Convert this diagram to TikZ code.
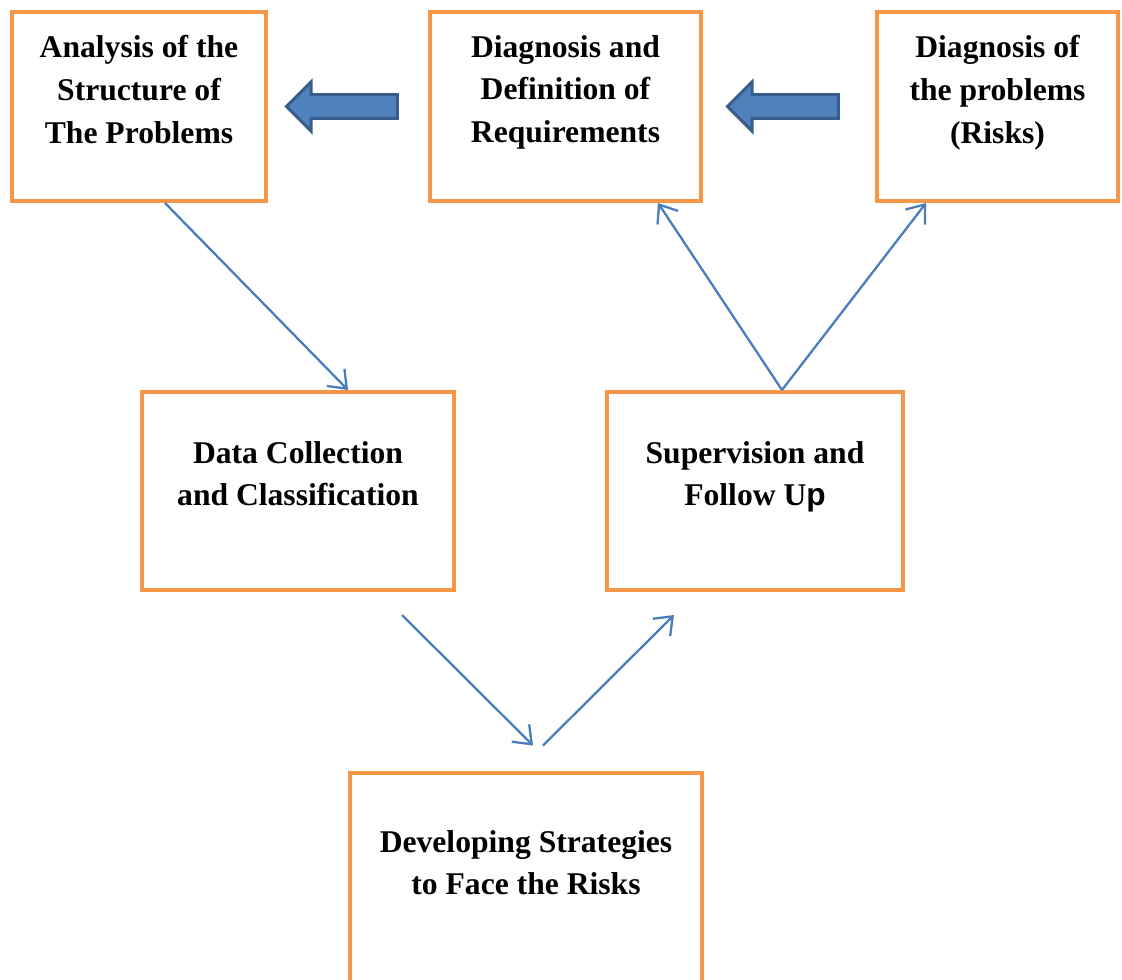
\documentclass[tikz,border=0pt]{standalone}
\usepackage{fontspec}
\setmainfont{Liberation Serif}
\setsansfont{Liberation Sans}
\usetikzlibrary{arrows.meta,shapes.arrows,calc}

\definecolor{boxorange}{HTML}{F79646}
\definecolor{lineblue}{HTML}{4A7EBB}
\definecolor{arrowfill}{HTML}{4F81BD}
\definecolor{arrowedge}{HTML}{385D8A}

\tikzset{
  stage/.style={draw=boxorange, line width=2.3pt, align=center, inner sep=0pt,
    font=\fontsize{18}{24.4}\selectfont\bfseries, text depth=0.7cm},
  flow/.style={draw=lineblue, line width=1.3pt, -{Straight Barb[length=9pt,width=14pt]}},
  bigarrow/.style={single arrow, draw=arrowedge, fill=arrowfill, line width=1.7pt,
    shape border rotate=180, inner xsep=0pt, inner ysep=0.21cm,
    minimum height=2.22cm, single arrow head extend=0.25cm}
}

\begin{document}
\begin{tikzpicture}[x=0.02cm,y=-0.02cm]
\useasboundingbox (0,0) rectangle (1122,980);

% top row
\node[stage, minimum width=5.08cm, minimum height=3.78cm] (analysis) at (139,106.5)
  {Analysis of the\\Structure of\\The Problems};
\node[stage, minimum width=5.42cm, minimum height=3.78cm] (diagnosis) at (565.5,106.5)
  {Diagnosis and\\Definition of\\Requirements};
\node[stage, minimum width=4.82cm, minimum height=3.78cm] (risks) at (997.5,106.5)
  {Diagnosis of\\the problems\\(Risks)};

% middle row
\node[stage, minimum width=6.24cm, minimum height=3.96cm] (data) at (298,491)
  {Data Collection\\and Classification};
\node[stage, minimum width=5.92cm, minimum height=3.96cm] (supervision) at (755,491)
  {Supervision and\\Follow U{\sffamily p}};

% bottom
\node[stage, minimum width=7.04cm, minimum height=4.3cm] (strategies) at (526,880)
  {Developing Strategies\\to Face the Risks};

% block arrows
\node[bigarrow] (toanalysis) at ($(analysis.east)!0.5!(diagnosis.west)$) {};
\node[bigarrow] (todiagnosis) at ($(diagnosis.east)!0.5!(risks.west)$) {};

% thin arrows
\draw[flow] ($(analysis.south)+(26,0)$) -- ($(data.north)+(50,0)$);
\draw[flow] ($(data.south)+(104,23)$) -- ($(strategies.north)+(7,-25)$);
\draw[flow] ($(strategies.north)+(17,-25)$) -- ($(supervision.south)+(-81,23)$);
\draw[flow] ($(supervision.north)+(27,0)$) -- ($(diagnosis.south)+(92.5,0)$);
\draw[flow] ($(supervision.north)+(27,0)$) -- ($(risks.south)+(-71.5,0)$);
\end{tikzpicture}
\end{document}
